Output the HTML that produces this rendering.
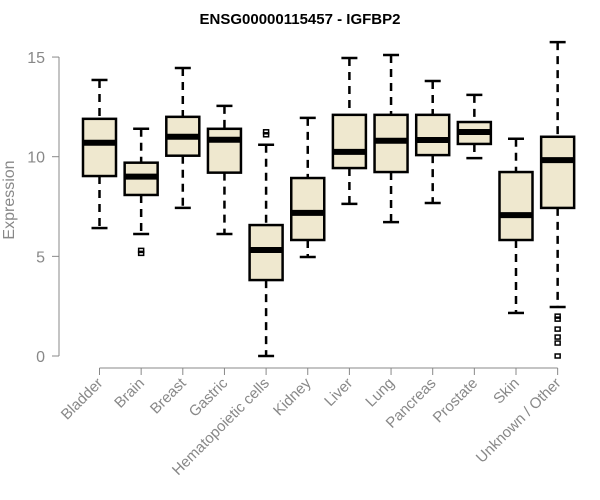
<!DOCTYPE html>
<html><head><meta charset="utf-8"><style>body{margin:0;background:#fff}svg{display:block}</style></head>
<body>
<svg id="c" width="600" height="500" xmlns="http://www.w3.org/2000/svg" font-family="Liberation Sans, sans-serif"></svg>
<script>
const categories=["Bladder","Brain","Breast","Gastric","Hematopoietic cells","Kidney","Liver","Lung","Pancreas","Prostate","Skin","Unknown / Other"];
const lowerWhisker=[6.42,6.12,7.43,6.12,0,4.97,7.63,6.72,7.68,9.93,2.16,2.46];
const q1=[9.03,8.08,10.05,9.2,3.81,5.82,9.43,9.23,10.08,10.64,5.82,7.43];
const median=[10.7,9.0,11.0,10.85,5.32,7.18,10.24,10.8,10.84,11.24,7.07,9.83];
const q3=[11.9,9.7,12.0,11.4,6.57,8.93,12.1,12.1,12.1,11.74,9.23,11.0];
const upperWhisker=[13.85,11.4,14.45,12.55,10.6,11.95,14.95,15.1,13.8,13.1,10.9,15.75];
const outliers=[[],[5.15,5.3],[],[],[11.1,11.25],[],[],[],[],[],[],[2.0,1.85,1.35,0.95,0.65,0]];
const yTicks=[0,5,10,15];
const svg=document.getElementById('c');const NS='http://www.w3.org/2000/svg';
function y(v){return 356-v*19.93;}
function x(i){return 99.5+i*41.65;}
function mk(t,a,p){const e=document.createElementNS(NS,t);for(const k in a)e.setAttribute(k,a[k]);(p||svg).appendChild(e);return e;}
let t=mk('text',{x:300,y:24,'text-anchor':'middle','font-size':15,'font-weight':'bold',fill:'#000'});t.textContent='ENSG00000115457 - IGFBP2';


let ya=mk('line',{x1:59,x2:59,y1:y(0),y2:y(15),stroke:'#888'});


yTicks.forEach(v=>{mk('line',{x1:52,x2:59,y1:y(v),y2:y(v),stroke:'#888'});
 const l=mk('text',{x:45,y:y(v)+6,'text-anchor':'end','font-size':16,fill:'#888'});l.textContent=v;
 
 });
let yt=mk('text',{x:14,y:200,'text-anchor':'middle','font-size':16,fill:'#888',transform:'rotate(-90 14 200)'});yt.textContent='Expression';


let xa=mk('line',{x1:x(0),x2:x(11),y1:368,y2:368,stroke:'#888'});


categories.forEach((c,i)=>{const cx=x(i),hw=16.5;
 const g=mk('g',{});
 
 
 mk('line',{x1:cx,x2:cx,y1:y(upperWhisker[i]),y2:y(q3[i]),stroke:'#000','stroke-width':2.5,'stroke-dasharray':'8,6'},g);
 mk('line',{x1:cx,x2:cx,y1:y(q1[i]),y2:y(lowerWhisker[i]),stroke:'#000','stroke-width':2.5,'stroke-dasharray':'8,6'},g);
 mk('line',{x1:cx-8,x2:cx+8,y1:y(upperWhisker[i]),y2:y(upperWhisker[i]),stroke:'#000','stroke-width':2.5},g);
 mk('line',{x1:cx-8,x2:cx+8,y1:y(lowerWhisker[i]),y2:y(lowerWhisker[i]),stroke:'#000','stroke-width':2.5},g);
 mk('rect',{x:cx-hw,y:y(q3[i]),width:hw*2,height:y(q1[i])-y(q3[i]),fill:'#efe8cf',stroke:'#000','stroke-width':2.5},g);
 mk('line',{x1:cx-hw,x2:cx+hw,y1:y(median[i]),y2:y(median[i]),stroke:'#000','stroke-width':6},g);
 outliers[i].forEach(v=>mk('rect',{x:cx-2.5,y:y(v)-2,width:5,height:4,fill:'none',stroke:'#000','stroke-width':1.5},g));
 mk('line',{x1:cx,x2:cx,y1:368,y2:375,stroke:'#888'});
 const l=mk('text',{x:cx+4,y:384,'text-anchor':'end','font-size':15,fill:'#888',transform:`rotate(-45 ${cx+4} 384)`});l.textContent=c;
 
 
});
</script>
</body></html>
